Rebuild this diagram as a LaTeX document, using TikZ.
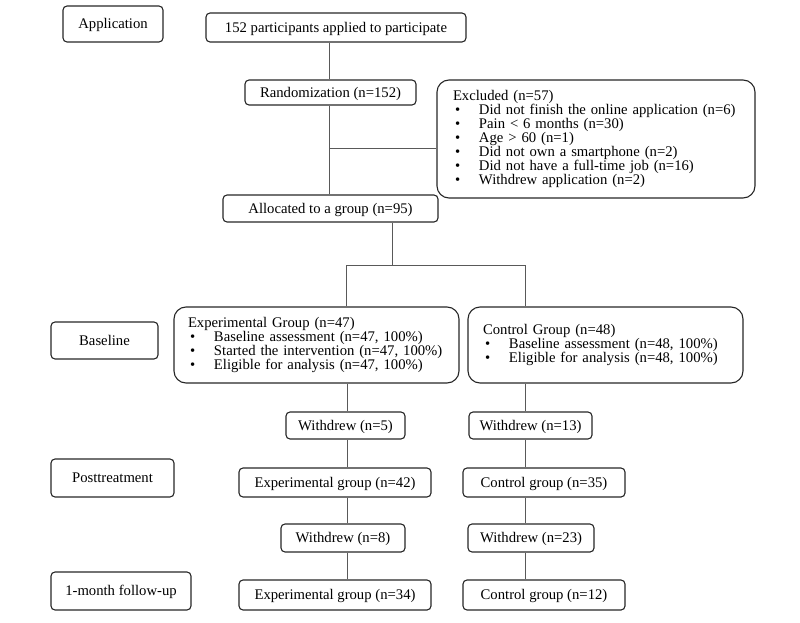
\documentclass[tikz,border=0pt]{standalone}
\usepackage{fontspec}
\setmainfont{Liberation Serif}
\newcommand{\flowbullet}[1]{\mbox{\makebox[26pt][l]{\hspace{2pt}\textbullet}#1}}
\newcommand{\flowfont}{\fontsize{14.7}{14}\selectfont\setlength{\lineskiplimit}{-100pt}}
\begin{document}
\begin{tikzpicture}[x=1pt,y=-1pt,
  box/.style={draw=black!85, line width=1.1pt, rounded corners=4pt, inner sep=0pt,
    font=\flowfont, text depth=1pt},
  bigbox/.style={box, rounded corners=12pt, align=left, inner ysep=0pt, text depth=},
  conn/.style={draw=black!65, line width=0.8pt}]
\useasboundingbox (0,0) rectangle (800,623);
% stage labels
\node[box, minimum width=100pt, minimum height=36pt] (app) at (113,24) {Application};
\node[box, minimum width=107pt, minimum height=37pt] (base) at (104.5,340.5) {Baseline};
\node[box, minimum width=123pt, minimum height=38pt] (post) at (112.5,478) {Posttreatment};
\node[box, minimum width=140pt, minimum height=38pt] (month) at (121,591) {1-month follow-up};
% flow
\node[box, minimum width=260pt, minimum height=29pt] (p152) at (336,27.5) {152 participants applied to participate};
\node[box, minimum width=171pt, minimum height=25pt] (rand) at (330.5,92.5) {Randomization (n=152)};
\node[bigbox, inner xsep=16pt, text width=286pt, minimum height=118pt] (excl) at (596,139) {Excluded (n=57)\\
\flowbullet{Did not finish the online application (n=6)}\\
\flowbullet{Pain {\textless} 6 months (n=30)}\\
\flowbullet{Age {\textgreater} 60 (n=1)}\\
\flowbullet{Did not own a smartphone (n=2)}\\
\flowbullet{Did not have a full-time job (n=16)}\\
\flowbullet{Withdrew application (n=2)}};
\node[box, minimum width=215pt, minimum height=27pt] (alloc) at (330.5,208.5) {Allocated to a group (n=95)};
\node[bigbox, inner xsep=14pt, text width=257pt, minimum height=76pt] (expg) at (316.5,345) {Experimental Group (n=47)\\
\flowbullet{Baseline assessment (n=47, 100\%)}\\
\flowbullet{Started the intervention (n=47, 100\%)}\\
\flowbullet{Eligible for analysis (n=47, 100\%)}};
\node[bigbox, inner xsep=15pt, text width=245pt, minimum height=76pt] (ctrl) at (605.5,345) {Control Group (n=48)\\
\flowbullet{Baseline assessment (n=48, 100\%)}\\
\flowbullet{Eligible for analysis (n=48, 100\%)}};
\node[box, minimum width=119pt, minimum height=27pt] (w5) at (345.5,425.5) {Withdrew (n=5)};
\node[box, minimum width=123pt, minimum height=27pt] (w13) at (530.5,425.5) {Withdrew (n=13)};
\node[box, minimum width=192pt, minimum height=29pt] (e42) at (335,482.5) {Experimental group (n=42)};
\node[box, minimum width=162pt, minimum height=29pt] (c35) at (544,482.5) {Control group (n=35)};
\node[box, minimum width=124pt, minimum height=28pt] (w8) at (343,538) {Withdrew (n=8)};
\node[box, minimum width=126pt, minimum height=28pt] (w23) at (531,538) {Withdrew (n=23)};
\node[box, minimum width=192pt, minimum height=30pt] (e34) at (335,595) {Experimental group (n=34)};
\node[box, minimum width=162pt, minimum height=30pt] (c12) at (544,595) {Control group (n=12)};
% connector guide coordinates
\coordinate (sp) at (329,0);
\coordinate (br) at (329,148);
\coordinate (ax) at (392,0);
\coordinate (hy) at (0,265);
\coordinate (ux) at (346,0);
\coordinate (lx) at (347,0);
\coordinate (rx) at (525,0);
% connectors
\draw[conn] (p152.south -| sp) -- (rand.north -| sp);
\draw[conn] (rand.south -| sp) -- (alloc.north -| sp);
\draw[conn] (br) -- (br -| excl.west);
\draw[conn] (alloc.south -| ax) -- (ax |- hy);
\draw[conn] (expg.north -| ux) -- (ux |- hy) -- (rx |- hy) -- (ctrl.north -| rx);
\draw[conn] (expg.south -| lx) -- (w5.north -| lx);
\draw[conn] (w5.south -| lx) -- (e42.north -| lx);
\draw[conn] (e42.south -| lx) -- (w8.north -| lx);
\draw[conn] (w8.south -| lx) -- (e34.north -| lx);
\draw[conn] (ctrl.south -| rx) -- (w13.north -| rx);
\draw[conn] (w13.south -| rx) -- (c35.north -| rx);
\draw[conn] (c35.south -| rx) -- (w23.north -| rx);
\draw[conn] (w23.south -| rx) -- (c12.north -| rx);
\end{tikzpicture}
\end{document}
